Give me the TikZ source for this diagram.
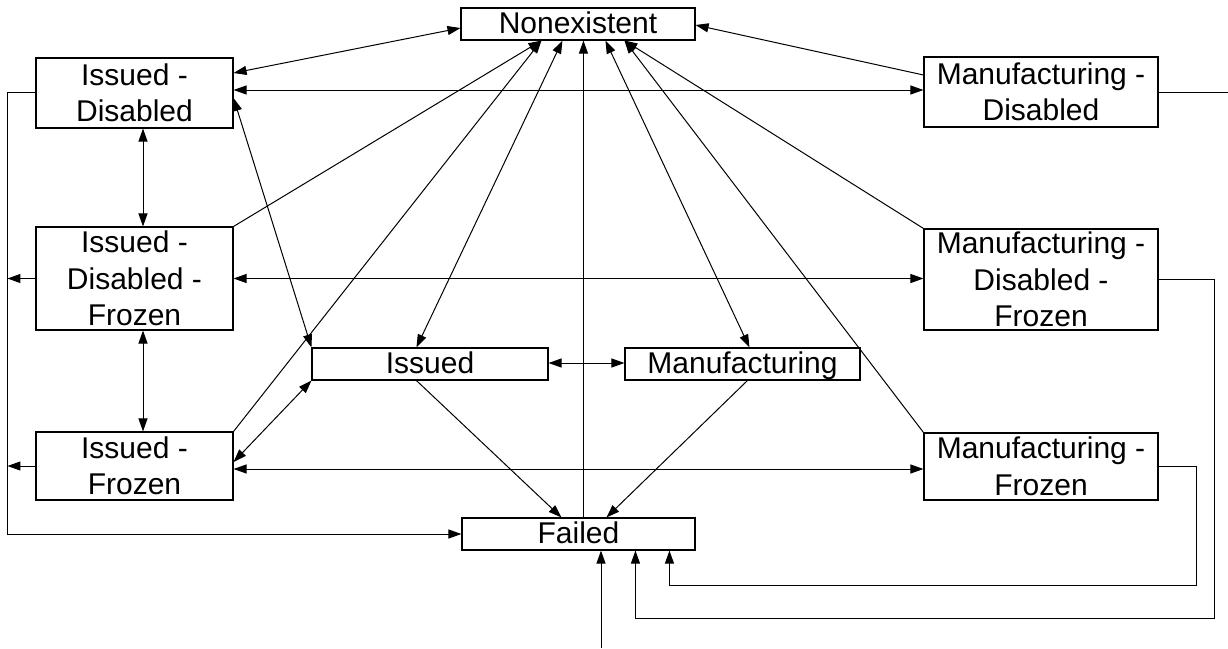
\documentclass[tikz,border=0pt]{standalone}
\usepackage{fontspec}
\setmainfont{Liberation Sans}
\usetikzlibrary{arrows.meta}
\begin{document}
\begin{tikzpicture}[x=1pt,y=-1pt,
  box/.style={draw, line width=1.1pt, inner sep=0pt, align=center,
              font=\fontsize{30}{36.5}\selectfont},
  oneline/.style={text height=22pt, text depth=4pt},
  link/.style={line width=1pt},
  arr/.style={link, -{Triangle[length=13pt,width=9pt]}},
  dbl/.style={link, {Triangle[length=13pt,width=9pt]}-{Triangle[length=13pt,width=9pt]}}]
\useasboundingbox (0,0) rectangle (1228,648);
\fill[white] (0,0) rectangle (1228,648);

% states
\node[box, oneline, minimum width=234pt, minimum height=32pt] (nonex) at (578,24) {Nonexistent};
\node[box, minimum width=197pt, minimum height=70pt]  (idis)  at (134.5,93)    {Issued -\\Disabled};
\node[box, minimum width=234pt, minimum height=70pt]  (mdis)  at (1041,92)     {Manufacturing -\\Disabled};
\node[box, minimum width=197pt, minimum height=103pt] (idf)   at (134.5,278.5) {Issued -\\Disabled -\\Frozen};
\node[box, minimum width=234pt, minimum height=101pt] (mdf)   at (1041,279.5)  {Manufacturing -\\Disabled -\\Frozen};
\node[box, oneline, minimum width=236pt, minimum height=32pt] (iss) at (430,364)   {Issued};
\node[box, oneline, minimum width=235pt, minimum height=32pt] (man) at (742.5,364) {Manufacturing};
\node[box, minimum width=197pt, minimum height=68pt]  (ifr)   at (134.5,466)   {Issued -\\Frozen};
\node[box, minimum width=234pt, minimum height=67pt]  (mfr)   at (1041,466.5)  {Manufacturing -\\Frozen};
\node[box, oneline, minimum width=233pt, minimum height=32pt] (fail) at (578.5,534) {Failed};

% transitions towards Nonexistent
\draw[dbl] ([yshift=-4pt]nonex.west) -- ([yshift=20pt]idis.east);
\draw[arr] ([yshift=17pt]mdis.west) -- ([yshift=-1pt]nonex.east);
\draw[arr] (idf.north east) -- ([xshift=81pt]nonex.south west);
\draw[arr] (ifr.north east) -- ([xshift=81pt]nonex.south west);
\draw[dbl] ([xshift=105pt]iss.north west) -- ([xshift=102pt]nonex.south west);
\draw[arr] ([xshift=122pt]fail.north west) -- ([xshift=123pt]nonex.south west);
\draw[dbl] ([xshift=125pt]man.north west) -- ([xshift=145pt]nonex.south west);
\draw[arr] (mdf.north west) -- ([xshift=164pt]nonex.south west);
\draw[arr] (mfr.north west) -- ([xshift=164pt]nonex.south west);

% issued / manufacturing pairs
\draw[dbl] ([yshift=3pt]idis.east) -- ([yshift=3pt]idis.east -| mdis.west);
\draw[dbl] (idf.east) -- (idf.east -| mdf.west);
\draw[dbl] ([yshift=1pt]iss.east) -- ([yshift=1pt]iss.east -| man.west);
\draw[dbl] ([yshift=-3pt]ifr.east) -- ([yshift=-3pt]ifr.east -| mfr.west);

% issued column
\draw[dbl] ([xshift=8.5pt]idis.south) -- ([xshift=8.5pt]idf.north);
\draw[dbl] ([xshift=8.5pt]idf.south) -- ([xshift=8.5pt]ifr.north);
\draw[dbl] (iss.north west) -- ([yshift=-5pt]idis.east);
\draw[dbl] (iss.south west) -- ([yshift=4pt]ifr.east);

% transitions into Failed
\draw[arr] ([xshift=105pt]iss.south west) -- ([xshift=100pt]fail.north west);
\draw[arr] ([xshift=123pt]man.south west) -- ([xshift=145pt]fail.north west);
\draw[arr] ([yshift=1pt]idis.west) -- ++(-28,0) |- (fail.west);
\draw[arr] (idf.west) -- ++(-28,0);
\draw[arr] (ifr.west) -- ++(-28,0);
\draw[link] (mdis.east) -- ++(70,0);
\draw[arr] (mdf.east) -- ++(56,0) |- ([xshift=174pt,yshift=-68pt]fail.south west)
           -- ([xshift=174pt]fail.south west);
\draw[arr] (mfr.east) -- ++(38,0) |- ([xshift=208pt,yshift=-35pt]fail.south west)
           -- ([xshift=208pt]fail.south west);
\coordinate (feed) at (601,648);
\draw[arr] (feed) -- (feed |- fail.south);
\end{tikzpicture}
\end{document}
